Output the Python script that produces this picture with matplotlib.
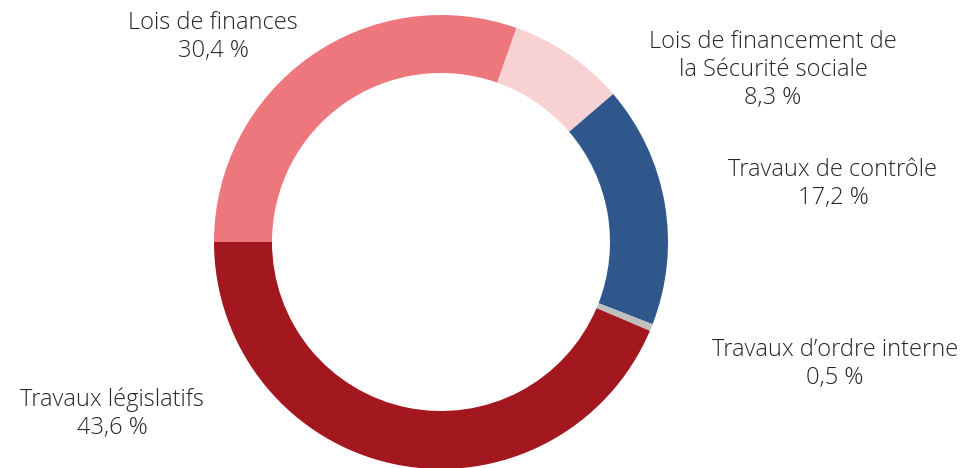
import matplotlib.pyplot as plt

labels = ["Lois de finances", "Lois de financement de\nla Sécurité sociale",
          "Travaux de contrôle", "Travaux d\u2019ordre interne", "Travaux législatifs"]
parts = [30.4, 8.3, 17.2, 0.5, 43.6]
colors = ["#EE777D", "#F8D1D3", "#30578B", "#BFBFBF", "#A3181F"]

# centres des étiquettes (pixels, origine en haut à gauche)
label_pos = [(213, 37), (773, 70), (833, 184), (835, 364), (112, 414)]

W, H = 971, 468
fig = plt.figure(figsize=(W / 100, H / 100), dpi=100)
ax = fig.add_axes([0, 0, 1, 1])
ax.set_xlim(0, W)
ax.set_ylim(0, H)
ax.set_aspect("equal")
ax.axis("off")

ax.pie(parts, colors=colors, startangle=180, counterclock=False,
       center=(441, H - 242), radius=227,
       wedgeprops=dict(width=58, edgecolor="white", linewidth=0))

for lab, val, (x, y) in zip(labels, parts, label_pos):
    txt = lab + "\n" + ("%.1f" % val).replace(".", ",") + " %"
    ax.text(x, H - y, txt, ha="center", va="center", fontsize=17,
            family="Open Sans", weight="light", color="#262626",
            linespacing=1.2)

ax.set_xlim(0, W)
ax.set_ylim(0, H)
fig.savefig("out.png", dpi=100)
